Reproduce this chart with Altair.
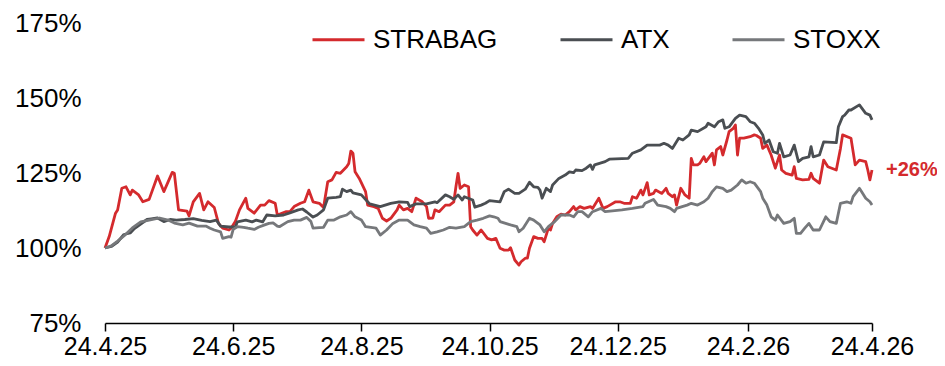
import altair as alt
import pandas as pd

START = "2025-04-24"
series_names = ["STRABAG", "ATX", "STOXX"]
series_colors = ["#d42a2d", "#4a4e52", "#76787b"]

strabag_days = [0, 2, 5, 6, 8, 10, 12, 13, 16, 18, 21, 25, 28, 32, 33, 35, 39, 40, 42, 45, 47, 49, 52,
                54, 56, 59, 60, 62, 64, 67, 68, 71, 74, 76, 78, 81, 82, 86, 88, 90, 93, 95, 97, 99, 102,
                104, 106, 108, 110, 112, 115, 116, 117, 118, 119, 121, 124, 125, 128, 130, 132, 134, 136,
                139, 140, 142, 144, 146, 148, 151, 153, 154, 156, 157, 159, 162, 164, 166, 167, 168, 169,
                171, 173, 174, 175, 177, 179, 182, 184, 186, 188, 190, 192, 193, 195, 197, 198, 200, 201,
                202, 204, 206, 208, 209, 211, 212, 213, 215, 217, 219, 221, 223, 224, 226, 228, 231, 232,
                235, 237, 239, 243, 245, 247, 250, 251, 253, 255, 256, 258, 259, 261, 262, 265, 267, 268,
                270, 271, 272, 274, 276, 278, 279, 280, 282, 283, 285, 286, 289, 290, 291, 293, 294, 296,
                297, 299, 300, 301, 302, 304, 307, 309, 310, 312, 313, 315, 317, 319, 321, 322, 324, 327,
                328, 329, 332, 335, 336, 337, 340, 342, 344, 348, 350, 351, 355, 357, 359, 362, 363, 364,
                365]
strabag_vals = [100, 103.8, 111.6, 112.7, 119.9, 120.4, 117.7, 119.3, 117.7, 115.4, 116.2, 124, 118.8,
                125.2, 124.9, 112.7, 112.3, 110.7, 115.4, 118.2, 112.7, 115.4, 113.5,
                108.2, 106.6, 106, 106.6, 108.8, 112.7, 116.6, 113.2, 111.6, 114.3, 114.3, 115.8, 114.9,
                111, 112.1, 112.1, 113.8, 114.9, 115.4, 119.3, 115.4, 114.9,
                113.5, 122.1, 122.7, 125.2, 124.9, 127.1, 128.2, 132.3, 131.6, 125.4, 123.2, 118.8, 114.3,
                113.8, 113.2, 109.9, 109, 109.9,
                112.7, 114.3, 112.7, 113.2, 112.1, 116.6, 115.4, 113.8, 109.9, 110, 112.7, 112.1, 114.3,
                114.3, 115.4, 120.4, 124.9, 119.9,
                121, 120.4, 107.1, 106, 104.3, 106, 103.2, 102.7, 103.2, 99.9, 99.3, 99.3, 100.1, 96, 94.3,
                95.4, 96.6, 96.6,
                99.9, 103.8, 103.2, 103.2, 102.1, 106.6, 106, 108.2, 110.4, 111.3, 111, 112.1, 113.8, 112.7,
                113.8, 113.2, 113.8, 113.2,
                116.6, 113.2, 113.8, 115.4, 115.4, 114.9, 114.9, 117.1, 116.6, 119.3, 117.7, 121.8, 117.7,
                118.2, 119.3, 118.2, 119.9, 118.2,
                117.1, 117.7, 114.3, 119.9, 117.7, 116.6, 129.9, 127.7, 127.7, 128.2, 130.4, 128.8, 131.6,
                127.7, 132.7, 133.8, 131, 136,
                138.8, 139.9, 141, 131, 136.6, 136.6, 137.1, 137.7, 137.5, 136.6, 133.2, 134.3, 131, 126.6,
                131, 126, 124.9, 124.3,
                127.1, 123.2, 122.7, 122.9, 124.9, 123.2, 121.6, 129.3, 127.1, 126, 133.2, 137.7, 136.6,
                127.7, 129.3, 128.8, 126, 122.7,
                126]

atx_days = [0, 3, 6, 9, 12, 14, 17, 20, 22, 25, 28, 31, 34, 38, 42, 46, 50, 53, 55, 59, 62, 63, 67, 70,
            72, 75, 77, 81, 85, 88, 92, 94, 96, 99, 101, 104, 106, 110, 112, 113, 115, 117, 118, 122, 125,
            126, 131, 136, 140, 144, 145, 148, 153, 157, 158, 162, 164, 166, 168, 170, 171, 175, 176, 179,
            181, 183, 188, 190, 192, 195, 197, 200, 202, 204, 206, 207, 208, 210, 212, 213, 216, 219, 221,
            223, 224, 227, 229, 231, 232, 233, 238, 240, 249, 251, 255, 258, 261, 264, 266, 268, 270, 273,
            275, 278, 279, 282, 286, 287, 290, 292, 294, 295, 297, 300, 302, 305, 307, 309, 311, 313, 314,
            316, 318, 320, 321, 323, 326, 328, 330, 332, 335, 336, 337, 340, 342, 348, 349, 351, 352, 354,
            355, 359, 362, 364, 365]
atx_vals = [100, 100.5, 102, 104.5, 105, 106.5, 108, 109.5, 109.7, 110, 108.8, 109.5, 109.3, 109.5, 109.8,
            109.2, 108.8, 109.3, 107.3, 107, 107, 108.7, 109.3, 108.7,
            109.3, 108.7, 111, 110.7, 111, 111.7, 112.7, 113, 112, 110.3, 111, 112.7, 116.6, 116.9, 117.1,
            119.6, 118.8, 119.3, 118.4, 117.7, 115.4,
            114.7, 113.8, 114.9, 115.4, 115.2, 113.8, 114.7, 114.7, 115.4, 115.1, 117.7, 117.1, 116.2,
            117.7, 116, 117.1, 116, 113.6, 114.3,
            114.9, 115.8, 115.4, 118.8, 119.6, 118.2, 118.2, 119.6, 121.9, 120.4, 120.2, 119.3, 116.6,
            119.9, 118.8, 121, 123.2, 124.3, 125.4,
            125.1, 126, 125.8, 126.6, 127.7, 126.2, 127.7, 128.8, 129.6, 129.9, 131.6, 132.7, 134.3, 134.3,
            134.3, 134.9, 134.3, 133.2, 136.6,
            136, 137.7, 139.3, 138.8, 140.4, 141.6, 140.4, 142.1, 142.7, 139.9, 140.4, 143.2, 144.3, 143.8,
            142.1, 141.6, 139.9, 137.7, 134.9,
            136, 132.1, 131.6, 134.9, 130.4, 131, 134.3, 128.8, 129.9, 130.4, 133.8, 130.4, 131, 135.4,
            135.1, 140.4, 143.8, 144.3, 146,
            146, 147.7, 144.9, 144.3, 142.7]

stoxx_days = [0, 3, 6, 9, 13, 17, 21, 26, 30, 33, 37, 40, 44, 48, 50, 52, 55, 56, 59, 60, 61, 63, 66, 68,
              71, 73, 76, 78, 80, 82, 83, 87, 90, 93, 96, 98, 99, 102, 104, 106, 109, 112, 115, 117, 119,
              122, 124, 129, 131, 134, 137, 140, 144, 147, 150, 153, 155, 158, 161, 164, 167, 171, 174, 177,
              180, 183, 185, 187, 188, 193, 196, 197, 199, 202, 204, 207, 209, 211, 214, 217, 221, 223, 225,
              227, 230, 232, 236, 238, 246, 251, 256, 257, 261, 263, 267, 269, 271, 272, 277, 279, 282, 285,
              287, 289, 291, 294, 296, 298, 301, 303, 305, 307, 309, 312, 313, 315, 317, 319, 320, 323, 326,
              328, 329, 331, 333, 335, 337, 340, 343, 345, 348, 350, 353, 355, 356, 359, 360, 362, 364, 365]
stoxx_vals = [100, 100.7, 102.3, 104, 106.7, 108.7, 109.3, 110, 109.3, 108.3, 107.7, 108.3, 107.3, 107.3,
              106.6, 106, 105.4, 103.2, 103.8, 103.6, 106.2, 107.1, 106.9, 106.6,
              106.2, 106.9, 107.7, 108.2, 108.4, 107.3, 107.1, 108.8, 109.3, 109.3, 110.2, 108.8, 106.6,
              106.8, 106.9, 109.3, 109.3, 110.4, 111, 112.1, 110.4,
              109.3, 107.1, 106.6, 104.3, 106, 108.2, 109.3, 109.3, 107.7, 107.1, 106.6, 104.9, 105.4, 106,
              106.9, 106.6, 107.1, 108.8, 109.3,
              109.9, 110.7, 110.4, 109.9, 108.8, 107.7, 107.1, 105.4, 106.6, 109.9, 109.3, 107.7, 105.4,
              107.1, 108.8, 111, 111, 110.4, 112.1,
              112.1, 110.4, 112.1, 113.2, 112.1, 112.7, 113.2, 113.8, 114.9, 116.2, 114.3, 113.8, 113.2,
              112.1, 113.2, 114.3, 114.9, 114.3, 115.4,
              116.6, 118.8, 120.4, 119.9, 118.8, 119.3, 121, 122.7, 121.6, 122.1, 121.6, 118.8, 116.6, 114.3,
              110.4, 109.3, 111, 108.2, 108.8,
              109.9, 104.9, 104.9, 106.6, 108.2, 106, 106, 110.4, 108.8, 108.2, 114.9, 115.4, 114.9, 117.1,
              119.9, 118.8, 116.6, 115.4, 114.3]

tick_dates = ["2025-04-24", "2025-06-24", "2025-08-24", "2025-10-24",
              "2025-12-24", "2026-02-24", "2026-04-24"]
y_ticks = [75, 100, 125, 150, 175]


def frame(days, vals, name):
    return pd.DataFrame({
        "date": pd.Timestamp(START) + pd.to_timedelta(days, unit="D"),
        "value": vals,
        "series": name,
    })


df = pd.concat([
    frame(strabag_days, strabag_vals, "STRABAG"),
    frame(atx_days, atx_vals, "ATX"),
    frame(stoxx_days, stoxx_vals, "STOXX"),
], ignore_index=True)

last = pd.DataFrame({
    "date": [pd.Timestamp(START) + pd.Timedelta(days=strabag_days[-1])],
    "value": [strabag_vals[-1]],
    "label": [f"+{round(strabag_vals[-1] - 100)}%"],
})


def dt(s):
    t = pd.Timestamp(s)
    return alt.DateTime(year=t.year, month=t.month, date=t.day)


FONT = "Liberation Sans, Arial, sans-serif"

x_enc = alt.X(
    "date:T",
    scale=alt.Scale(domain=[dt(tick_dates[0]), dt(tick_dates[-1])], nice=False),
    axis=alt.Axis(
        values=[dt(d) for d in tick_dates], format="%-d.%-m.%y", title=None,
        grid=False, domainColor="#000000", domainWidth=1.5, tickColor="#000000",
        tickWidth=1.5, tickSize=8, labelFont=FONT, labelFontSize=25, labelColor="#000000",
        labelPadding=3, labelFlush=False, labelOverlap=False,
    ),
)
y_enc = alt.Y(
    "value:Q",
    scale=alt.Scale(domain=[75, 175], nice=False, zero=False),
    axis=alt.Axis(
        values=y_ticks, labelExpr="datum.value + '%'", title=None, grid=False,
        domain=False, ticks=False, labelFont=FONT, labelFontSize=26, labelColor="#000000",
        labelPadding=24,
    ),
)

lines = alt.Chart(df).mark_line(strokeWidth=2.8, strokeJoin="round").encode(
    x=x_enc,
    y=y_enc,
    color=alt.Color(
        "series:N",
        scale=alt.Scale(domain=series_names, range=series_colors),
        legend=alt.Legend(
            title=None, orient="none", legendX=206, legendY=-11, direction="horizontal",
            symbolType="stroke", symbolSize=2704, symbolStrokeWidth=3, labelFont=FONT,
            labelFontSize=26, labelColor="#000000", labelOffset=7, columnPadding=56,
            padding=0, labelLimit=300,
        ),
    ),
    order=alt.Order("date:T"),
)

label = alt.Chart(last).mark_text(
    align="left", baseline="middle", dx=14, fontWeight="bold", fontSize=20,
    font=FONT, color=series_colors[0],
).encode(x="date:T", y="value:Q", text="label:N")

chart = alt.layer(lines, label).properties(
    width=767, height=300,
    padding={"left": 97, "top": 15, "right": 65, "bottom": 35},
    autosize=alt.AutoSizeParams(type="none"),
).configure_view(stroke=None)

chart.save("out.html", embed_options={"renderer": "svg", "actions": False})
